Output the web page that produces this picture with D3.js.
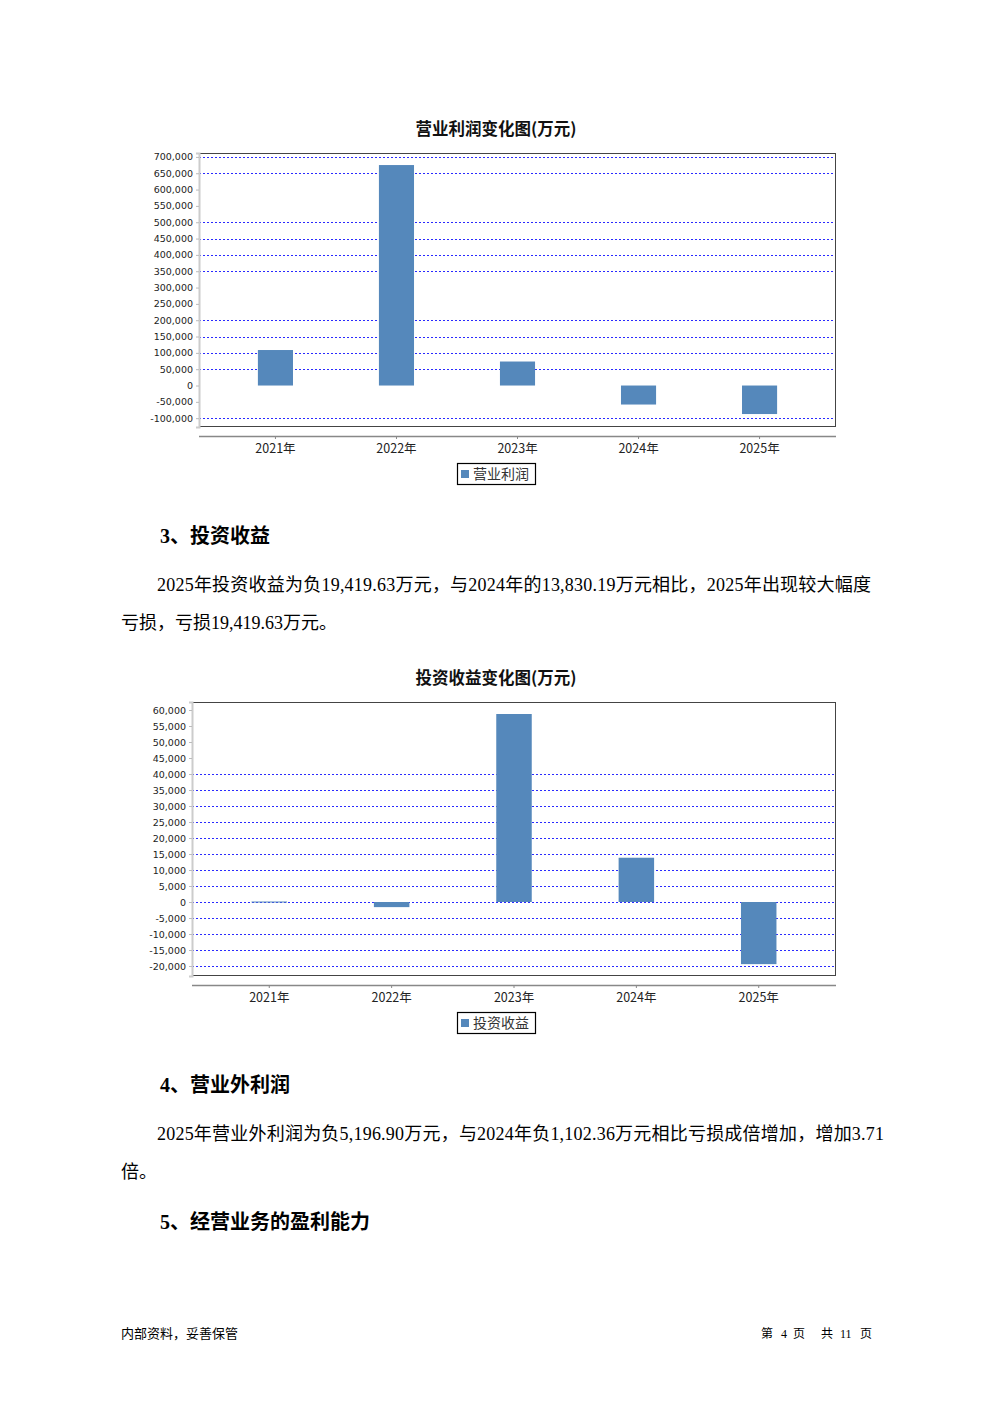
<!DOCTYPE html>
<html><head><meta charset="utf-8">
<script src="https://cdn.jsdelivr.net/npm/d3@7"></script>
<style>html,body{margin:0;padding:0;background:#fff;}svg{display:block;}</style>
</head><body>
<script>
// ---- data ----
const categories = ["2021年","2022年","2023年","2024年","2025年"];
const opProfit = [108700, 675100, 73500, -58200, -87300];
const opTicks = d3.range(-100000, 700001, 50000);
const opGrid = [700000,650000,500000,450000,400000,350000,200000,150000,100000,50000,-100000];
const invIncome = [150, -1600, 58750, 13830.19, -19419.63];
const invTicks = d3.range(-20000, 60001, 5000);
const invGrid = [40000,35000,30000,25000,20000,15000,10000,5000,0,-5000,-10000,-15000,-20000];
const title1 = "营业利润变化图(万元)";
const title2 = "投资收益变化图(万元)";
const legend1 = "营业利润";
const legend2 = "投资收益";

const W = 992, H = 1403;
const svg = d3.select("body").append("svg").attr("width", W).attr("height", H);
svg.append("rect").attr("width", W).attr("height", H).attr("fill", "#fff");

const CJK = "'Noto Sans CJK SC','DejaVu Sans',sans-serif";
const SERIF = "'Liberation Serif','Noto Sans CJK SC',serif";
const fmt = v => d3.format(",")(v).replace("−", "-");

function drawChart(cfg) {
  const g = svg.append("g");
  const {left, right, top, bottom} = cfg;
  const y = d3.scaleLinear().domain(cfg.domain).range([bottom, top]);
  const m = (right - left) * 0.025;
  const x = d3.scaleBand().domain(categories).range([left + m, right - m]);
  // title
  g.append("text").attr("x", 496).attr("y", cfg.titleY).attr("text-anchor", "middle")
    .attr("font-family", CJK).attr("font-weight", "bold").attr("font-size", 16.5)
    .attr("fill", "#111").text(cfg.title);
  // grid
  g.selectAll("line.grid").data(cfg.grid).join("line")
    .attr("x1", left).attr("x2", right)
    .attr("y1", d => Math.round(y(d)) + 0.5).attr("y2", d => Math.round(y(d)) + 0.5)
    .attr("stroke", "#2a2aff").attr("stroke-width", 1).attr("stroke-dasharray", "2,2");
  // bars
  const bw = x.bandwidth() * 0.29;
  g.selectAll("rect.bar").data(cfg.values).join("rect")
    .attr("x", (d, i) => x(categories[i]) + x.bandwidth() / 2 - bw / 2)
    .attr("width", bw)
    .attr("y", d => Math.min(y(d), y(0)))
    .attr("height", d => Math.max(1, Math.abs(y(d) - y(0))))
    .attr("fill", "#5588bb");
  // plot border
  g.append("rect").attr("x", left + 0.5).attr("y", top + 0.5)
    .attr("width", right - left - 1).attr("height", bottom - top - 1)
    .attr("fill", "none").attr("stroke", "#444").attr("stroke-width", 1);
  // y axis
  const ya = g.append("g").attr("transform", `translate(${left},0)`)
    .call(d3.axisLeft(y).tickValues(cfg.ticks).tickSize(3).tickPadding(3).tickFormat(fmt));
  ya.select(".domain").attr("stroke", "#ccc").attr("stroke-width", 2);
  ya.selectAll(".tick line").attr("stroke", "#bbb");
  ya.selectAll("text").attr("font-family", "'DejaVu Sans',sans-serif").attr("font-size", 9.5).attr("fill", "#222");
  // x axis
  const xa = g.append("g").attr("transform", `translate(0,${cfg.xAxisY})`)
    .call(d3.axisBottom(x).tickSize(3).tickSizeOuter(0).tickPadding(5));
  xa.select(".domain").remove();
  xa.append("line").attr("x1", left).attr("x2", right).attr("y1", 0.5).attr("y2", 0.5)
    .attr("stroke", "#888").attr("stroke-width", 1.5);
  xa.selectAll(".tick line").attr("stroke", "#888");
  xa.selectAll("text").attr("font-family", CJK).attr("font-size", 12.5).attr("fill", "#222");
  // legend
  const lg = g.append("g").attr("transform", `translate(457,${cfg.legendY})`);
  lg.append("rect").attr("x", 0.5).attr("y", 0.5).attr("width", 78).attr("height", 21)
    .attr("fill", "#fff").attr("stroke", "#000").attr("stroke-width", 1.2);
  lg.append("rect").attr("x", 4).attr("y", 7).attr("width", 8).attr("height", 8).attr("fill", "#5588bb");
  lg.append("text").attr("x", 16).attr("y", 15.5).attr("font-family", CJK).attr("font-size", 14)
    .attr("fill", "#333").text(cfg.legend);
}

drawChart({title: title1, titleY: 135, left: 199, right: 836, top: 153, bottom: 427,
  domain: [-127000, 712000], ticks: opTicks, grid: opGrid, values: opProfit,
  xAxisY: 436, legendY: 463, legend: legend1});
drawChart({title: title2, titleY: 684, left: 192, right: 836, top: 702, bottom: 976,
  domain: [-23125, 62500], ticks: invTicks, grid: invGrid, values: invIncome,
  xAxisY: 985, legendY: 1012, legend: legend2});

// ---- text ----
function heading(t, yy) {
  svg.append("text").attr("x", 160).attr("y", yy).attr("font-family", SERIF)
    .attr("font-weight", "bold").attr("font-size", 20).attr("fill", "#000").text(t);
}
function para(t, x0, yy, len) {
  const tx = svg.append("text").attr("x", x0).attr("y", yy).attr("font-family", SERIF)
    .attr("font-size", 18).attr("fill", "#000").text(t);
  if (len) tx.attr("textLength", len).attr("lengthAdjust", "spacing");
}
heading("3、投资收益", 543);
para("2025年投资收益为负19,419.63万元，与2024年的13,830.19万元相比，2025年出现较大幅度", 157, 591, 714);
para("亏损，亏损19,419.63万元。", 121, 629);
heading("4、营业外利润", 1092);
para("2025年营业外利润为负5,196.90万元，与2024年负1,102.36万元相比亏损成倍增加，增加3.71", 157, 1140, 727);
para("倍。", 121, 1178);
heading("5、经营业务的盈利能力", 1229);

svg.append("text").attr("x", 121).attr("y", 1338).attr("font-family", CJK)
  .attr("font-size", 13).attr("fill", "#000").text("内部资料，妥善保管");
const footer = [["第", 761], ["4", 781], ["页", 793], ["共", 821], ["11", 840], ["页", 860]];
svg.selectAll("text.foot").data(footer).join("text")
  .attr("x", d => d[1]).attr("y", 1338).attr("font-family", SERIF)
  .attr("font-size", 12).attr("fill", "#000").text(d => d[0]);
</script>
</body></html>
